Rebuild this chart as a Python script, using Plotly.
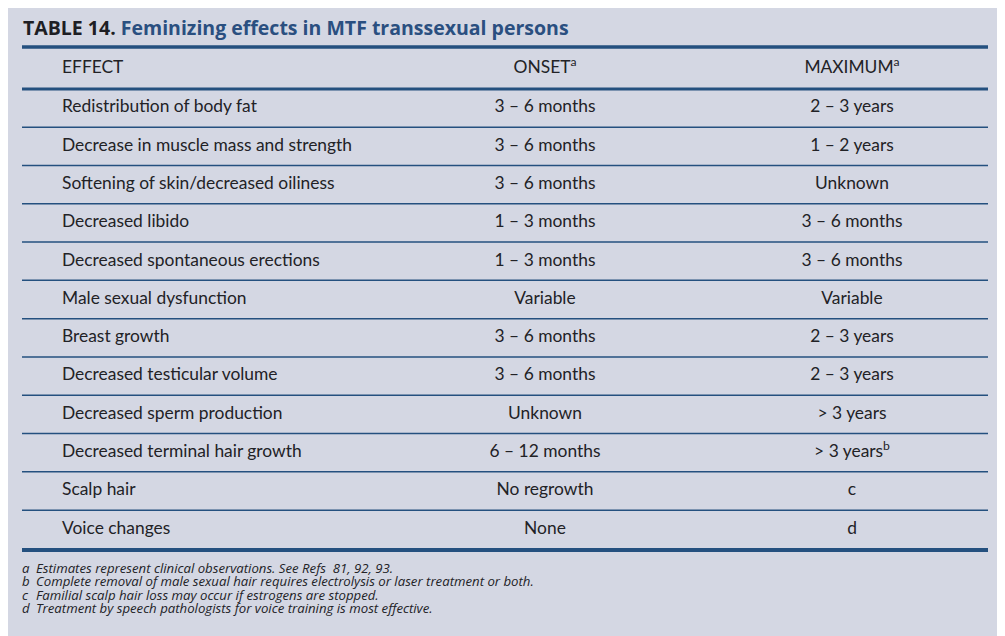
import plotly.graph_objects as go

# ── Table content ──────────────────────────────────────────────────────────────
TITLE_NUM  = "TABLE 14."
TITLE_TEXT = "Feminizing effects in MTF transsexual persons"

HEADERS = ["EFFECT", "ONSET<sup>a</sup>", "MAXIMUM<sup>a</sup>"]

EFFECTS = [
    "Redistribution of body fat",
    "Decrease in muscle mass and strength",
    "Softening of skin/decreased oiliness",
    "Decreased libido",
    "Decreased spontaneous erections",
    "Male sexual dysfunction",
    "Breast growth",
    "Decreased testicular volume",
    "Decreased sperm production",
    "Decreased terminal hair growth",
    "Scalp hair",
    "Voice changes",
]
ONSET = [
    "3 – 6 months", "3 – 6 months", "3 – 6 months", "1 – 3 months",
    "1 – 3 months", "Variable", "3 – 6 months", "3 – 6 months",
    "Unknown", "6 – 12 months", "No regrowth", "None",
]
MAXIMUM = [
    "2 – 3 years", "1 – 2 years", "Unknown", "3 – 6 months",
    "3 – 6 months", "Variable", "2 – 3 years", "2 – 3 years",
    "> 3 years", "> 3 years<sup>b</sup>", "c", "d",
]

FOOT_KEYS = ["a", "b", "c", "d"]
FOOT_TEXT = [
    "Estimates represent clinical observations. See Refs  81, 92, 93.",
    "Complete removal of male sexual hair requires electrolysis or laser treatment or both.",
    "Familial scalp hair loss may occur if estrogens are stopped.",
    "Treatment by speech pathologists for voice training is most effective.",
]

# ── Layout constants (pixel space of the reference) ────────────────────────────
W, H = 1005, 636
OFF = 8          # page body margin, shift the axes so pixels line up
BG    = "#d4d7e3"
BLUE  = "#24507f"
INK   = "#222226"
FONT  = "Lato"

X_LEFT, X_RIGHT = 22, 988
X_EFFECT, X_ONSET, X_MAX = 62, 545, 852
HEAD_Y   = 69
ROW0_Y   = 108
ROW_H    = 38.3
TOP_RULE = 47
HEAD_RULE = 89

row_y = [ROW0_Y + i * ROW_H for i in range(len(EFFECTS))]
n = len(EFFECTS)

fig = go.Figure()

body_font = dict(family=FONT, size=17.4, color=INK)
fig.add_trace(go.Scatter(
    x=[X_EFFECT] * n, y=row_y, text=EFFECTS, mode="text",
    textposition="middle right", textfont=body_font, hoverinfo="skip",
))
fig.add_trace(go.Scatter(
    x=[X_ONSET] * n, y=row_y, text=ONSET, mode="text",
    textposition="middle center", textfont=body_font, hoverinfo="skip",
))
fig.add_trace(go.Scatter(
    x=[X_MAX] * n, y=row_y, text=MAXIMUM, mode="text",
    textposition="middle center", textfont=body_font, hoverinfo="skip",
))
# header row
fig.add_trace(go.Scatter(
    x=[X_EFFECT, X_ONSET, X_MAX], y=[HEAD_Y] * 3, text=HEADERS, mode="text",
    textposition=["middle right", "middle center", "middle center"],
    textfont=body_font, hoverinfo="skip",
))

# rules
shapes = [
    dict(type="line", x0=X_LEFT, x1=X_RIGHT, y0=TOP_RULE, y1=TOP_RULE,
         line=dict(color=BLUE, width=3.5)),
    dict(type="line", x0=X_LEFT, x1=X_RIGHT, y0=HEAD_RULE, y1=HEAD_RULE,
         line=dict(color=BLUE, width=3)),
]
for i in range(n - 1):
    yy = row_y[i] + ROW_H / 2
    shapes.append(dict(type="line", x0=X_LEFT, x1=X_RIGHT, y0=yy, y1=yy,
                       line=dict(color=BLUE, width=1.5)))
yb = row_y[-1] + ROW_H / 2 + 1.5
shapes.append(dict(type="line", x0=X_LEFT, x1=X_RIGHT, y0=yb, y1=yb,
                   line=dict(color=BLUE, width=4)))

# title + footnotes
annotations = [dict(
    x=X_LEFT - 1, y=27, xref="x", yref="y", xanchor="left", yanchor="middle",
    showarrow=False,
    text=f"<b><span style='color:#1e1e24'>{TITLE_NUM}</span> {TITLE_TEXT}</b>",
    font=dict(family="Open Sans", size=19.5, color="#2a4f80"),
)]
foot_font = dict(family="Open Sans", size=13.2, color=INK)
for k, (key, txt) in enumerate(zip(FOOT_KEYS, FOOT_TEXT)):
    fy = 568 + k * 13.3
    annotations.append(dict(x=21, y=fy, xref="x", yref="y", xanchor="left",
                            yanchor="middle", showarrow=False, text=f"<i>{key}</i>",
                            font=foot_font, borderpad=0))
    annotations.append(dict(x=35, y=fy, xref="x", yref="y", xanchor="left",
                            yanchor="middle", showarrow=False, text=f"<i>{txt}</i>",
                            font=foot_font, borderpad=0))

fig.update_layout(
    width=W, height=H,
    margin=dict(l=0, r=0, t=0, b=0),
    paper_bgcolor=BG, plot_bgcolor=BG,
    showlegend=False,
    xaxis=dict(range=[OFF, W + OFF], visible=False, fixedrange=True),
    yaxis=dict(range=[H + OFF, OFF], visible=False, fixedrange=True),
    shapes=shapes, annotations=annotations,
)

fig.write_html("out.html")
